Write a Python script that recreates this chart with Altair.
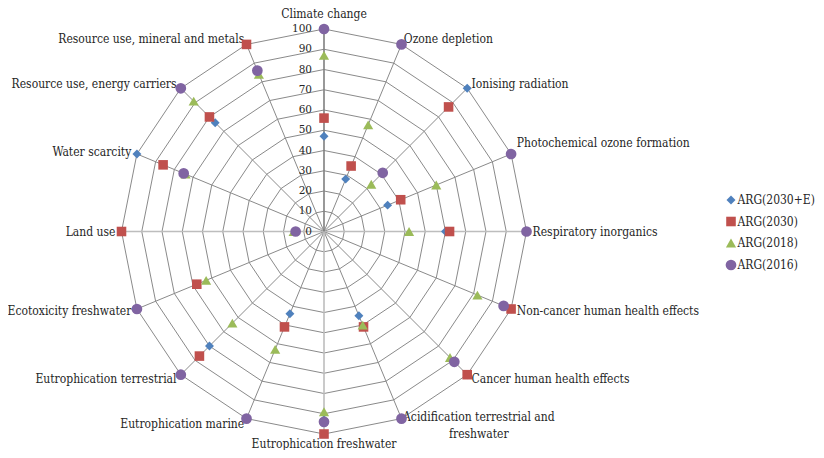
import altair as alt
import pandas as pd

categories = [
    "Climate change", "Ozone depletion", "Ionising radiation",
    "Photochemical ozone formation", "Respiratory inorganics",
    "Non-cancer human health effects", "Cancer human health effects",
    "Acidification terrestrial and\nfreshwater", "Eutrophication freshwater",
    "Eutrophication marine", "Eutrophication terrestrial",
    "Ecotoxicity freshwater", "Land use", "Water scarcity",
    "Resource use, energy carriers", "Resource use, mineral and metals",
]
series_names = ["ARG(2030+E)", "ARG(2030)", "ARG(2018)", "ARG(2016)"]
arg_2030e = [47, 28, 100, 34, 60, 100, 100, 45, 93, 44, 80, 68, 100, 100, 76, 100]
arg_2030 = [56, 35, 87, 41, 62, 100, 100, 51, 100, 51, 87, 68, 100, 86, 80, 100]
arg_2018 = [87, 57, 33, 60, 42, 82, 88, 50, 89, 63, 64, 63, 15, 74, 91, 84]
arg_2016 = [100, 100, 41, 100, 100, 96, 91, 100, 94, 100, 100, 100, 14, 75, 100, 86]
tick_values = list(range(0, 101, 10))

colors = ["#4F81BD", "#C0504D", "#9BBB59", "#8064A2"]
shapes = ["diamond", "square", "triangle-up", "circle"]
sizes = [80, 115, 125, 140]
FONT = "'DejaVu Serif Condensed', 'DejaVu Serif'"
FONT_T = "DejaVu Serif"
TXT = "#262626"
N = len(categories)

rows = []
for si, (s, vals) in enumerate(zip(series_names, [arg_2030e, arg_2030, arg_2018, arg_2016])):
    for i, v in enumerate(vals):
        rows.append({"series": s, "idx": i, "value": v, "sorder": si})
points = pd.DataFrame(rows)

rings = pd.DataFrame([{"level": l, "k": k} for l in tick_values[1:] for k in range(N + 1)])
spokes = pd.DataFrame({"idx": list(range(N))})
ticks = pd.DataFrame({"t": tick_values})

label_group = {0: "top", 8: "bottom", 7: "acid", 3: "photo"}
labs = pd.DataFrame({
    "category": categories,
    "idx": list(range(N)),
})
labs["group"] = [label_group.get(i, "left" if 0 < i < 8 else "right") for i in range(N)]

sc = alt.Scale(domain=[-100, 100], nice=False, zero=False)
ang = f"datum.idx*2*PI/{N}"

def X(f):
    return alt.X(f, type="quantitative", scale=sc, axis=None)

def Y(f):
    return alt.Y(f, type="quantitative", scale=sc, axis=None)

ring_layer = alt.Chart(rings).transform_calculate(
    x=f"datum.level*sin(datum.k*2*PI/{N})", y=f"datum.level*cos(datum.k*2*PI/{N})"
).mark_line(color="#8a8a8a", strokeWidth=1).encode(
    x=X("x"), y=Y("y"), detail="level:N", order="k:Q"
)

spoke_base = alt.Chart(spokes).transform_calculate(
    x0="0", y0="0", x1=f"100*sin({ang})", y1=f"100*cos({ang})"
)
spoke_diag = spoke_base.transform_filter("datum.idx % 4 != 0").mark_rule(
    color="#8a8a8a", strokeWidth=1
).encode(x=X("x0"), y=Y("y0"), x2="x1:Q", y2="y1:Q")
spoke_axis = spoke_base.transform_filter("datum.idx % 4 == 0 && datum.idx != 0").mark_rule(
    color="#bdbdbd", strokeWidth=1.6
).encode(x=X("x0"), y=Y("y0"), x2="x1:Q", y2="y1:Q")
spoke_value = spoke_base.transform_filter("datum.idx == 0").mark_rule(
    color="#7f7f7f", strokeWidth=1.6
).encode(x=X("x0"), y=Y("y0"), x2="x1:Q", y2="y1:Q")

tick_layer = alt.Chart(ticks).transform_calculate(x0="0").mark_text(
    align="right", baseline="middle", dx=-12, font=FONT_T, fontSize=10.5, color=TXT
).encode(x=X("x0"), y=Y("t"), text="t:Q")

lab_base = alt.Chart(labs).transform_calculate(
    x=f"103*sin({ang})", y=f"103*cos({ang})"
)
def lab(group, **kw):
    return lab_base.transform_filter(f"datum.group == '{group}'").mark_text(
        font=FONT, fontSize=12, color=TXT, lineBreak="\n", **kw
    ).encode(x=X("x"), y=Y("y"), text="category:N")

labels = [
    lab("left", align="left", baseline="middle"),
    lab("photo", align="left", baseline="middle", dy=-9),
    lab("right", align="right", baseline="middle"),
    lab("top", align="center", baseline="bottom", dy=-1.5),
    lab("bottom", align="center", baseline="middle", dy=4),
    lab("acid", align="center", baseline="middle", dx=75, dy=-7, lineHeight=17),
]

point_layer = alt.Chart(points).transform_calculate(
    x=f"datum.value*sin({ang})", y=f"datum.value*cos({ang})"
).mark_point(filled=True, opacity=1, strokeWidth=0).encode(
    x=X("x"), y=Y("y"),
    color=alt.Color("series:N", scale=alt.Scale(domain=series_names, range=colors),
                    legend=alt.Legend(title=None, orient="none", legendX=603, legendY=165,
                                      labelFont=FONT, labelFontSize=12, labelColor=TXT,
                                      symbolSize=85, rowPadding=9.5, labelOffset=0, padding=0)),
    shape=alt.Shape("series:N", scale=alt.Scale(domain=series_names, range=shapes)),
    size=alt.Size("series:N", scale=alt.Scale(domain=series_names, range=sizes), legend=None),
    order="sorder:Q",
)

chart = alt.layer(
    ring_layer, spoke_diag, spoke_axis, spoke_value, tick_layer, *labels, point_layer
).properties(
    width=405, height=405,
    autosize=alt.AutoSizeParams(type="none"),
    padding={"left": 113.5, "top": 21, "right": 289.5, "bottom": 16},
).configure_view(stroke=None)

chart.save("out.html", embed_options={"renderer": "svg", "actions": False})
